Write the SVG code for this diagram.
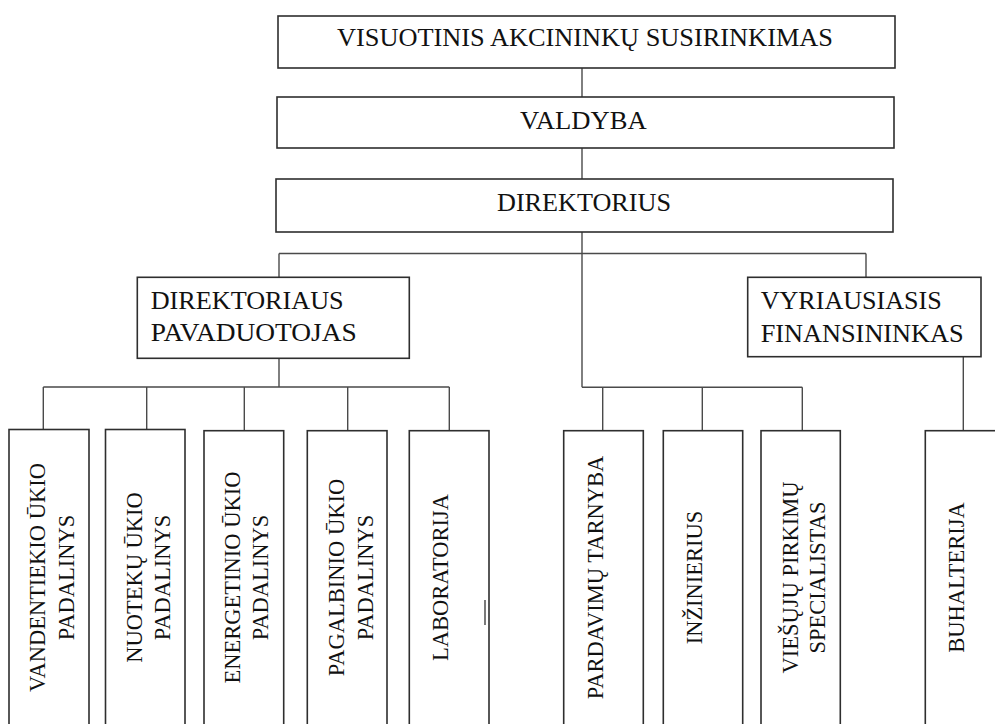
<svg xmlns="http://www.w3.org/2000/svg" width="995" height="724" viewBox="0 0 995 724">
<style>
.box{fill:#fff;stroke:#2e2e2e;stroke-width:1.6}
.conn{fill:none;stroke:#4a4a4a;stroke-width:1.4}
.h{font-family:"Liberation Serif","Times New Roman",serif;font-size:25px;fill:#111}
.v{font-family:"Liberation Serif","Times New Roman",serif;font-size:22.5px;fill:#111;text-anchor:middle}
</style>
<rect width="995" height="724" fill="#fff"/>
<g id="connectors" class="conn">
<path d="M582 68V97M582 148V179M582 232V387.3"/>
<path d="M279 253.5H866M279 253.5V277.3M866 253.5V277.3"/>
<path d="M279 358.3V387M43.3 387H449.3M43.3 387V429.5M146.7 387V429.5M244.3 387V430.7M347.7 387V430.7M449.3 387V430.7"/>
<path d="M582 387.3H802.3M602.7 387.3V430.7M702.3 387.3V430.7M802.3 387.3V430.7"/>
<path d="M963.3 356.7V430.7"/>
</g>
<g id="visuotinis">
<rect class="box" x="278" y="16" width="617" height="52"/>
<text class="h" x="337" y="46" textLength="496" lengthAdjust="spacingAndGlyphs">VISUOTINIS AKCININKŲ SUSIRINKIMAS</text>
</g>
<g id="valdyba">
<rect class="box" x="277" y="97" width="617" height="51"/>
<text class="h" x="520" y="128.5" textLength="126.7" lengthAdjust="spacingAndGlyphs">VALDYBA</text>
</g>
<g id="direktorius">
<rect class="box" x="276" y="179" width="617" height="53"/>
<text class="h" x="497" y="210.7" textLength="174" lengthAdjust="spacingAndGlyphs">DIREKTORIUS</text>
</g>
<g id="pavaduotojas">
<rect class="box" x="137.3" y="277.3" width="272" height="81"/>
<text class="h" x="150.7" y="308.5" textLength="193" lengthAdjust="spacingAndGlyphs">DIREKTORIAUS</text>
<text class="h" x="150.7" y="341" textLength="206" lengthAdjust="spacingAndGlyphs">PAVADUOTOJAS</text>
</g>
<g id="finansininkas">
<rect class="box" x="747.7" y="277.3" width="233.3" height="79.4"/>
<text class="h" x="760.7" y="309" textLength="181" lengthAdjust="spacingAndGlyphs">VYRIAUSIASIS</text>
<text class="h" x="760.7" y="341.7" textLength="203" lengthAdjust="spacingAndGlyphs">FINANSININKAS</text>
</g>
<g id="vandentiekio">
<rect class="box" x="9" y="429.5" width="80" height="300"/>
<text class="v" transform="translate(45,577.5) rotate(-90) scale(1,1.07)">VANDENTIEKIO ŪKIO</text>
<text class="v" transform="translate(74,577.5) rotate(-90) scale(1,1.07)">PADALINYS</text>
</g>
<g id="nuoteku">
<rect class="box" x="105.5" y="429.5" width="79.5" height="300"/>
<text class="v" transform="translate(141.7,577.5) rotate(-90) scale(1,1.07)">NUOTEKŲ ŪKIO</text>
<text class="v" transform="translate(170,577.5) rotate(-90) scale(1,1.07)">PADALINYS</text>
</g>
<g id="energetinio">
<rect class="box" x="204" y="430.7" width="79.7" height="300"/>
<text class="v" transform="translate(240,577.5) rotate(-90) scale(1,1.07)">ENERGETINIO ŪKIO</text>
<text class="v" transform="translate(268.3,577.5) rotate(-90) scale(1,1.07)">PADALINYS</text>
</g>
<g id="pagalbinio">
<rect class="box" x="307.3" y="430.7" width="79.7" height="300"/>
<text class="v" transform="translate(344.3,577.5) rotate(-90) scale(1,1.07)">PAGALBINIO ŪKIO</text>
<text class="v" transform="translate(372.7,577.5) rotate(-90) scale(1,1.07)">PADALINYS</text>
</g>
<g id="laboratorija">
<rect class="box" x="409.3" y="430.7" width="79.7" height="300"/>
<text class="v" transform="translate(448.3,577.5) rotate(-90) scale(1,1.07)">LABORATORIJA</text>
<line x1="485" y1="600" x2="485" y2="625" stroke="#333" stroke-width="1.3"/>
</g>
<g id="pardavimu">
<rect class="box" x="563.7" y="430.7" width="79.6" height="300"/>
<text class="v" transform="translate(603.3,577.5) rotate(-90) scale(1,1.07)">PARDAVIMŲ TARNYBA</text>
</g>
<g id="inzinierius">
<rect class="box" x="663.3" y="430.7" width="79.4" height="300"/>
<text class="v" transform="translate(701.7,577.5) rotate(-90) scale(1,1.07)">INŽINIERIUS</text>
</g>
<g id="viesuju">
<rect class="box" x="761" y="430.7" width="79.3" height="300"/>
<text class="v" transform="translate(797.5,577.5) rotate(-90) scale(1,1.07)">VIEŠŲJŲ PIRKIMŲ</text>
<text class="v" transform="translate(825,577.5) rotate(-90) scale(1,1.07)">SPECIALISTAS</text>
</g>
<g id="buhalterija">
<rect class="box" x="925.3" y="430.7" width="90" height="300"/>
<text class="v" transform="translate(964,577.5) rotate(-90) scale(1,1.07)">BUHALTERIJA</text>
</g>
</svg>
